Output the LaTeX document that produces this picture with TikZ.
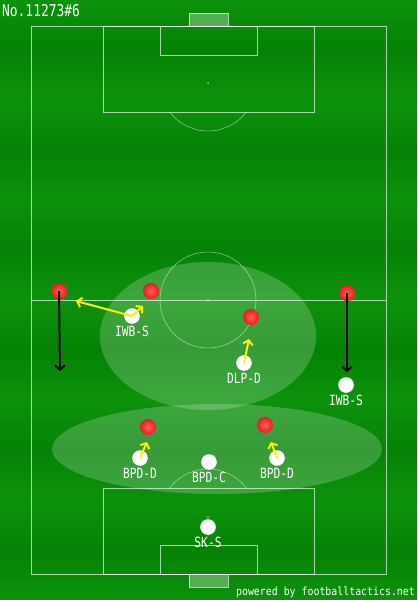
\documentclass[tikz,border=0pt]{standalone}
\usepackage{fontspec}
\setmonofont{DejaVu Sans Mono}
\usetikzlibrary{arrows.meta,shadows}
\definecolor{grasslight}{RGB}{12,146,12}
\definecolor{grassdark}{RGB}{6,130,6}
\definecolor{redhi}{RGB}{255,95,95}
\definecolor{redlo}{RGB}{232,28,28}
\newcommand{\narrow}[1]{\scalebox{0.8}[1]{#1}}

\begin{document}
\begin{tikzpicture}[x=0.05cm, y=-0.05cm,
    pitchline/.style={draw=white, draw opacity=0.65, line width=0.6pt},
    opp/.style={circle, minimum size=0.8cm, inner sep=0pt,
      shading=radial, inner color=redhi, outer color=redlo,
      drop shadow={opacity=0.35, shadow xshift=1pt, shadow yshift=-1pt}},
    own/.style={circle, minimum size=0.78cm, inner sep=0pt, fill=white,
      drop shadow={opacity=0.35, shadow xshift=1pt, shadow yshift=-1pt}},
    role/.style={text=white, font=\ttfamily\fontsize{20}{22}\selectfont, inner sep=0pt},
    move/.style={draw=yellow, line width=2.8pt, -{Straight Barb[length=6pt,width=14pt]}},
    push/.style={draw=black, line width=2.8pt, -{Straight Barb[length=6pt,width=14pt]}}]
  \useasboundingbox (0,0) rectangle (417,600);

  % grass
  \fill[grasslight] (0,0) rectangle (417,600);
  \foreach \y in {0,100,...,500} {
    \shade[top color=grasslight, bottom color=grassdark] (0,\y) rectangle (417,\y+50);
    \shade[top color=grassdark, bottom color=grasslight] (0,\y+50) rectangle (417,\y+100);
  }

  % zones
  \fill[white, opacity=0.2] (208,336) ellipse [x radius=108, y radius=74];
  \fill[white, opacity=0.2] (217,449) ellipse [x radius=165, y radius=45];

  % markings
  \draw[pitchline] (31,26) rectangle (386,574);
  \draw[pitchline] (31,300) -- (386,300);
  \draw[pitchline] (208,300) circle [radius=48];
  \draw[pitchline] (103,26) rectangle (314,112);
  \draw[pitchline] (160,26) rectangle (257,55);
  \draw[pitchline, fill=white, fill opacity=0.3] (189,13) rectangle (228,26);
  \draw[pitchline] (103,488) rectangle (314,574);
  \draw[pitchline] (160,545) rectangle (257,574);
  \draw[pitchline, fill=white, fill opacity=0.3] (189,574) rectangle (228,587);
  \begin{scope}
    \clip (31,112) rectangle (386,200);
    \draw[pitchline] (208,83) circle [radius=48];
  \end{scope}
  \begin{scope}
    \clip (31,400) rectangle (386,488);
    \draw[pitchline] (208,517) circle [radius=48];
  \end{scope}
  \foreach \s in {83,300,517}
    \fill[white, opacity=0.6] (208,\s) circle [radius=1];

  % opponents
  \node[opp] (oppA) at (59,291) {};
  \node[opp] (oppB) at (151,291) {};
  \node[opp] (oppC) at (251,317) {};
  \node[opp] (oppD) at (347,293) {};
  \node[opp] (oppE) at (148,427) {};
  \node[opp] (oppF) at (265,425) {};

  % own players
  \node[own, label={[role, label distance=3pt]below:\narrow{IWB-S}}] (iwbL) at (132,316) {};
  \node[own, label={[role, label distance=3pt]below:\narrow{DLP-D}}] (dlp) at (244,363) {};
  \node[own, label={[role, label distance=3pt]below:\narrow{IWB-S}}] (iwbR) at (346,385) {};
  \node[own, label={[role, label distance=3pt]below:\narrow{BPD-D}}] (bpdL) at (140,458) {};
  \node[own, label={[role, label distance=3pt]below:\narrow{BPD-C}}] (bpdC) at (209,462) {};
  \node[own, label={[role, label distance=3pt]below:\narrow{BPD-D}}] (bpdR) at (277,458) {};
  \node[own, label={[role, label distance=3pt]below:\narrow{SK-S}}] (sk) at (208,527) {};

  % movement
  \coordinate (iwbLrun) at (76,301);
  \coordinate (iwbLstep) at (143,306);
  \coordinate (dlpstep) at (249,339);
  \coordinate (bpdLstep) at (147,442);
  \coordinate (bpdRstep) at (271,442);
  \coordinate (oppAdrop) at (60,371);
  \coordinate (oppDdrop) at (347,372);
  \draw[move] (iwbL.center) -- (iwbLrun);
  \draw[move] (iwbL.center) -- (iwbLstep);
  \draw[move] (dlp.center) -- (dlpstep);
  \draw[move] (bpdL.center) -- (bpdLstep);
  \draw[move] (bpdR.center) -- (bpdRstep);
  \draw[push] (oppA.center) -- (oppAdrop);
  \draw[push] (oppD.center) -- (oppDdrop);

  \node[anchor=west, text=white, font=\ttfamily\fontsize{23}{25}\selectfont, inner sep=0pt]
    (title) at (2,11) {\narrow{No.11273\#6}};
  \node[anchor=east, text=white, font=\ttfamily\fontsize{16}{18}\selectfont, inner sep=0pt]
    (credit) at (415,592) {\scalebox{0.88}[1]{powered by footballtactics.net}};
\end{tikzpicture}
\end{document}
